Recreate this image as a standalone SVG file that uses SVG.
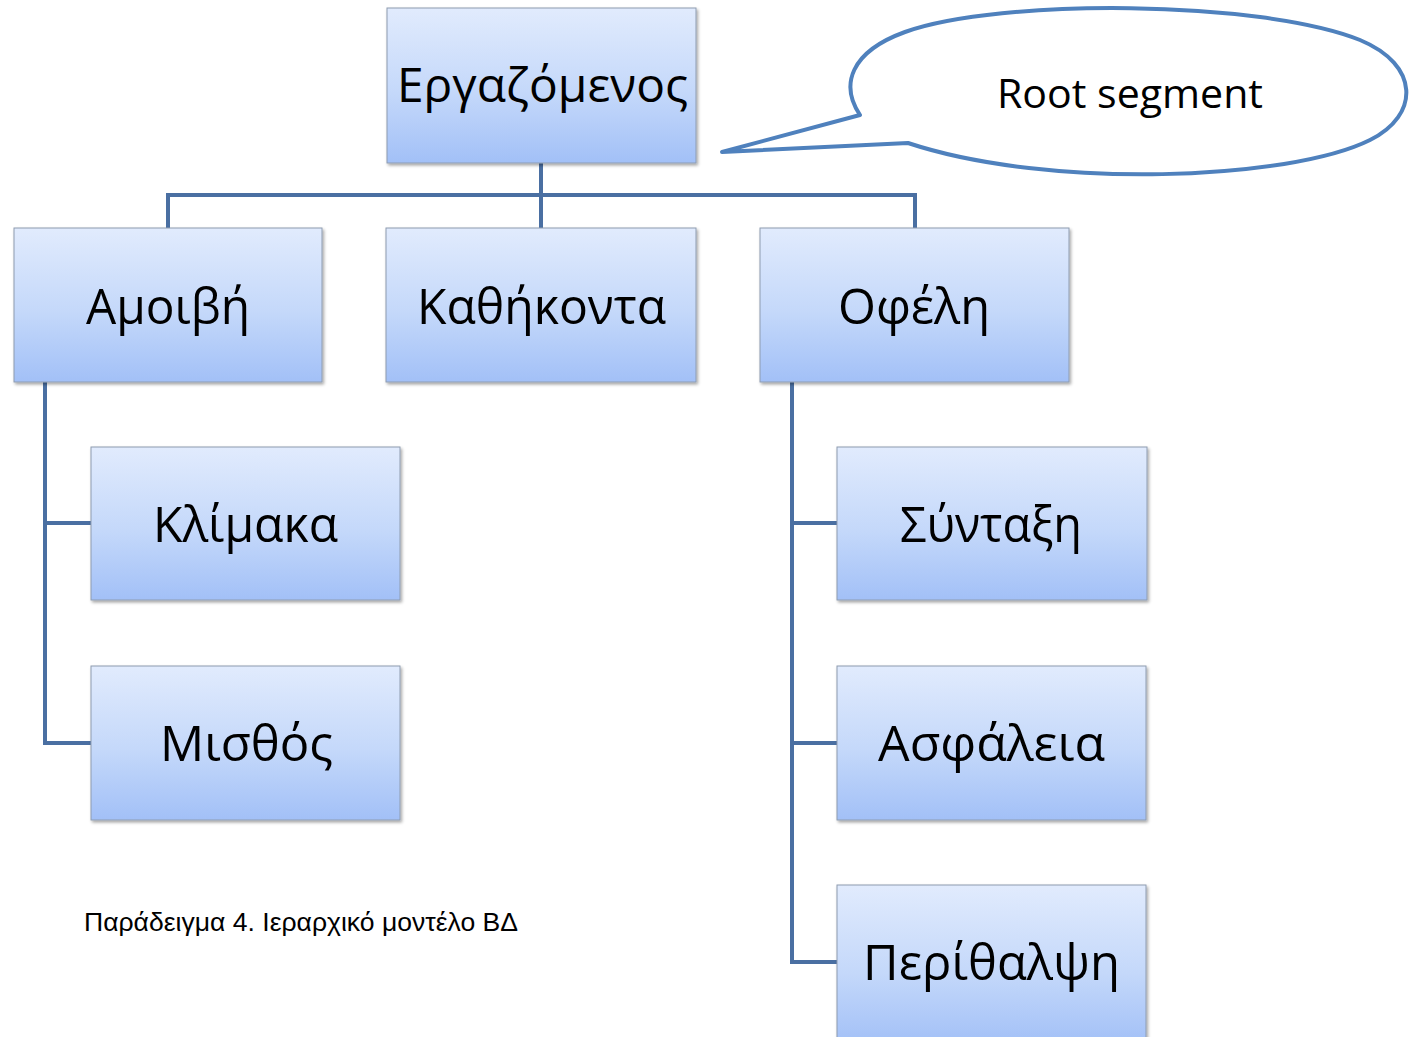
<svg xmlns="http://www.w3.org/2000/svg" width="1412" height="1037" viewBox="0 0 1412 1037">
  <defs>
    <linearGradient id="boxFill" x1="0" y1="0" x2="0" y2="1">
      <stop offset="0" stop-color="#e1ebfd"/>
      <stop offset="0.55" stop-color="#c4d8fa"/>
      <stop offset="1" stop-color="#a2c0f7"/>
    </linearGradient>
    <filter id="shadow" x="-5%" y="-5%" width="112%" height="115%">
      <feDropShadow dx="1.5" dy="2" stdDeviation="1.5" flood-color="#000" flood-opacity="0.35"/>
    </filter>
  </defs>
  <style>
    .box { fill: url(#boxFill); stroke: #8e9cb0; stroke-width: 1; filter: url(#shadow); }
    .label { font-family: "Open Sans", "Noto Sans", sans-serif; font-size: 50px; fill: #000; text-anchor: middle; }
    .root { font-size: 48px; }
    .link { fill: none; stroke: #4a6fa2; stroke-width: 4; stroke-linejoin: miter; }
    .callout { fill: #fff; stroke: #4f81bd; stroke-width: 4; stroke-linejoin: round; }
    .note { font-family: "Open Sans", "Noto Sans", sans-serif; font-size: 41px; fill: #000; text-anchor: middle; }
    .caption { font-family: "Liberation Sans", Arial, sans-serif; font-size: 26.5px; fill: #000; }
  </style>

  <rect width="1412" height="1037" fill="#fff"/>

  <!-- connectors -->
  <g id="connectors">
    <path class="link" d="M541 163 V195 M168 228 V195 H915 V228 M541 195 V228"/>
    <path class="link" d="M45 382 V743 H91 M45 523 H91"/>
    <path class="link" d="M792 382 V962 H837 M792 523 H837 M792 743 H837"/>
  </g>

  <!-- nodes -->
  <g id="node-root">
    <rect class="box" x="387" y="8" width="309" height="155"/>
    <text class="label root" x="542.5" y="102" textLength="291" lengthAdjust="spacingAndGlyphs">Εργαζόμενος</text>
  </g>
  <g id="node-amoivi">
    <rect class="box" x="14" y="228" width="308" height="154"/>
    <text class="label" x="168" y="324" textLength="164" lengthAdjust="spacingAndGlyphs">Αμοιβή</text>
  </g>
  <g id="node-kathikonta">
    <rect class="box" x="386" y="228" width="310" height="154"/>
    <text class="label" x="541.5" y="324" textLength="249" lengthAdjust="spacingAndGlyphs">Καθήκοντα</text>
  </g>
  <g id="node-ofeli">
    <rect class="box" x="760" y="228" width="309" height="154"/>
    <text class="label" x="914" y="324" textLength="152" lengthAdjust="spacingAndGlyphs">Οφέλη</text>
  </g>
  <g id="node-klimaka">
    <rect class="box" x="91" y="447" width="309" height="153"/>
    <text class="label" x="245.5" y="542" textLength="185" lengthAdjust="spacingAndGlyphs">Κλίμακα</text>
  </g>
  <g id="node-misthos">
    <rect class="box" x="91" y="666" width="309" height="154"/>
    <text class="label" x="246.5" y="761" textLength="173" lengthAdjust="spacingAndGlyphs">Μισθός</text>
  </g>
  <g id="node-syntaxi">
    <rect class="box" x="837" y="447" width="310" height="153"/>
    <text class="label" x="991" y="542" textLength="182" lengthAdjust="spacingAndGlyphs">Σύνταξη</text>
  </g>
  <g id="node-asfaleia">
    <rect class="box" x="837" y="666" width="309" height="154"/>
    <text class="label" x="991.5" y="761" textLength="227" lengthAdjust="spacingAndGlyphs">Ασφάλεια</text>
  </g>
  <g id="node-perithalpsi">
    <rect class="box" x="837" y="885" width="309" height="160"/>
    <text class="label" x="991.5" y="980" textLength="257" lengthAdjust="spacingAndGlyphs">Περίθαλψη</text>
  </g>

  <!-- speech bubble -->
  <g id="note-root-segment">
    <path class="callout" d="M860 115 C840 85 850 52 905 32 C1000 -2 1260 0 1360 40 C1420 65 1420 115 1370 140 C1290 180 1050 190 908 143 L722 152 Z"/>
    <text class="note" x="1130" y="108" textLength="266" lengthAdjust="spacingAndGlyphs">Root segment</text>
  </g>

  <text class="caption" x="84" y="931" textLength="434" lengthAdjust="spacingAndGlyphs">Παράδειγμα 4. Ιεραρχικό μοντέλο ΒΔ</text>
</svg>
